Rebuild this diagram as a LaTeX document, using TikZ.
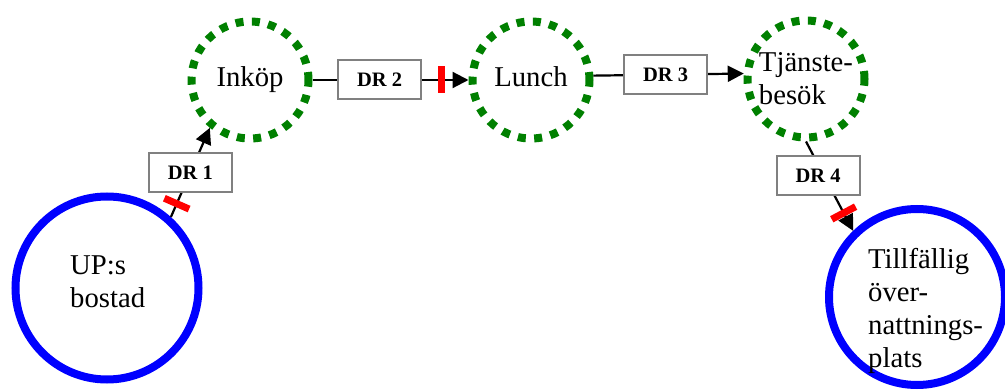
\documentclass[tikz,border=0pt]{standalone}
\usepackage{fontspec}
\setmainfont{Liberation Serif}
\usetikzlibrary{arrows.meta}

\definecolor{dotgreen}{RGB}{0,128,0}
\newcommand\platsfont{\fontsize{28.7}{33}\selectfont}
\newcommand\drfont{\fontsize{20.5}{24}\selectfont\bfseries}

\begin{document}
\begin{tikzpicture}[x=1pt, y=-1pt,
    hem/.style={circle, draw=blue, line width=8pt, inner sep=0pt},
    plats/.style={circle, draw=dotgreen, line width=8pt, dash pattern=on 8pt off 8.4pt,
        minimum size=117pt, inner sep=0pt, font=\platsfont},
    drbox/.style={draw=black!50, line width=2pt, fill=white, minimum width=83pt,
        minimum height=39pt, inner sep=0pt, font=\drfont},
    resa/.style={line width=2.2pt, -{Triangle[length=16pt,width=16pt]}},
    stopp/.style={fill=red, minimum width=7pt, minimum height=27pt, inner sep=0pt, sloped}]

    \useasboundingbox (0,0) rectangle (1005,390);

    % Platser
    \node[hem, minimum size=183pt] (bostad) at (107,288) {};
    \node[anchor=north west, inner sep=0pt, align=left, font=\platsfont] (bostadtext)
        at ([shift={(-37,-32)}]bostad.center) {UP:s\\bostad};
    \node[plats, text depth=6pt] (inkop) at (250,80) {Inköp};
    \node[plats, text depth=6pt] (lunch) at (531,80) {Lunch};
    \node[plats, align=left] (tjanst) at (806,79) {Tjänste-\\besök};
    \node[hem, minimum size=176pt] (tillf) at (917,297) {};
    \node[anchor=north west, inner sep=0pt, align=left, font=\platsfont] (tillftext)
        at ([shift={(-49,-49)}]tillf.center) {Tillfällig\\över-\\nattnings-\\plats};

    % Resor
    \draw[resa] (bostad.48) -- node[pos=0.15, stopp] {} node[midway, drbox] {DR 1} (inkop.230);
    \draw[resa] (inkop.east) -- node[pos=0.43, drbox] {DR 2} node[pos=0.83, stopp] {} (lunch.west);
    \draw[resa] (lunch.4) -- node[pos=0.48, drbox] {DR 3} (tjanst.175);
    \draw[resa] (tjanst.south) -- node[pos=0.385, drbox, xshift=-6pt] {DR 4}
        node[pos=0.8, stopp] {} (tillf.134);

\end{tikzpicture}
\end{document}
